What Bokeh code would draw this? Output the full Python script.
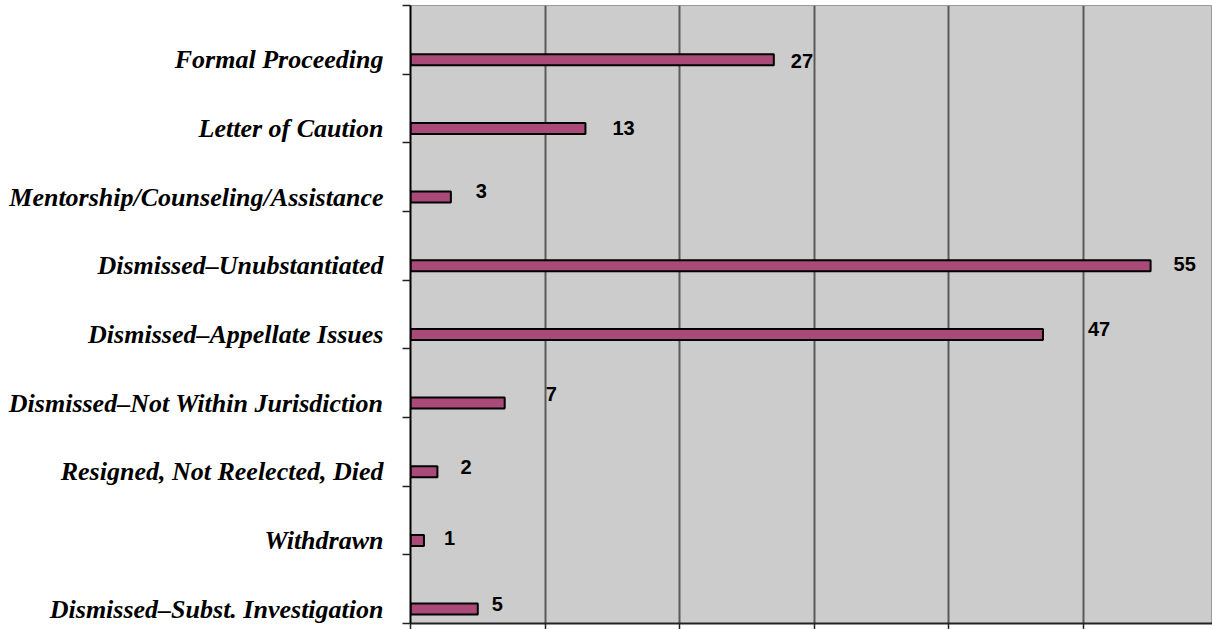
from bokeh.plotting import figure
from bokeh.models import Range1d, FixedTicker, ColumnDataSource
from bokeh.core.properties import value
from bokeh.embed import file_html
from bokeh.resources import INLINE

# ---- data (top to bottom) ----
categories = [
    "Formal Proceeding",
    "Letter of Caution",
    "Mentorship/Counseling/Assistance",
    "Dismissed\u2013Unubstantiated",
    "Dismissed\u2013Appellate Issues",
    "Dismissed\u2013Not Within Jurisdiction",
    "Resigned, Not Reelected, Died",
    "Withdrawn",
    "Dismissed\u2013Subst. Investigation",
]
counts = [27, 13, 3, 55, 47, 7, 2, 1, 5]
x_ticks = [0, 10, 20, 30, 40, 50, 60]

# label placement tweaks (pixels), as hand-placed in the original
label_dx = [17, 27, 25, 23, 45, 41, 23, 20, 14]
label_dy = [1, 0, -6, -2, -5, -9, -5, -2, -5]

n = len(categories)
BAR_SHIFT = 0.79
ypos = [i + BAR_SHIFT for i in range(n)]

src = ColumnDataSource(dict(
    y=ypos, right=counts, label=[str(c) for c in counts],
    dx=label_dx, dy=label_dy,
))

p = figure(width=1212, height=629, output_backend="svg", toolbar_location=None,
           x_range=Range1d(0, 59.6), y_range=Range1d(n, 0),
           min_border_left=410, min_border_right=0, min_border_top=5,
           min_border_bottom=6)

p.background_fill_color = "#cccccc"
p.border_fill_color = "white"
p.outline_line_color = "#9a9a9a"
p.outline_line_width = 1

p.hbar(y="y", left=0, right="right", height=0.16, source=src,
       fill_color="#a94a78", line_color="black", line_width=2)

p.text(x="right", y="y", text="label", source=src, x_offset="dx", y_offset="dy",
       text_align="left", text_baseline="middle",
       text_font=value("Liberation Sans"), text_font_style="bold",
       text_font_size="20px", text_color="black")

# x axis: gridlines only, no labels
p.xaxis.ticker = FixedTicker(ticks=x_ticks)
p.xaxis.major_label_overrides = {t: "" for t in x_ticks}
p.xaxis.major_label_text_font_size = "1px"
p.xaxis.major_label_standoff = 0
p.xaxis.major_tick_in = 0
p.xaxis.major_tick_out = 6
p.xaxis.major_tick_line_color = "#222222"
p.xaxis.major_tick_line_width = 1.5
p.xaxis.minor_tick_line_color = None
p.xaxis.axis_line_color = "#222222"
p.xaxis.axis_line_width = 2

p.xgrid.ticker = FixedTicker(ticks=x_ticks)
p.xgrid.grid_line_color = "#5a5a5a"
p.xgrid.grid_line_width = 2
p.ygrid.grid_line_color = None

# y axis: category labels at bars, tick marks at category boundaries
p.yaxis.ticker = FixedTicker(ticks=ypos, minor_ticks=list(range(n + 1)))
p.yaxis.major_label_overrides = {y: c for y, c in zip(ypos, categories)}
p.yaxis.major_tick_line_color = None
p.yaxis.major_tick_in = 0
p.yaxis.major_tick_out = 0
p.yaxis.major_label_standoff = 19
p.yaxis.minor_tick_in = 0
p.yaxis.minor_tick_out = 8
p.yaxis.minor_tick_line_color = "#222222"
p.yaxis.minor_tick_line_width = 1.5
p.yaxis.axis_line_color = "black"
p.yaxis.axis_line_width = 2
p.yaxis.major_label_text_font = "Liberation Serif"
p.yaxis.major_label_text_font_style = "bold italic"
p.yaxis.major_label_text_font_size = "26px"
p.yaxis.major_label_text_color = "black"

open("out.html", "w").write(file_html(p, INLINE))
